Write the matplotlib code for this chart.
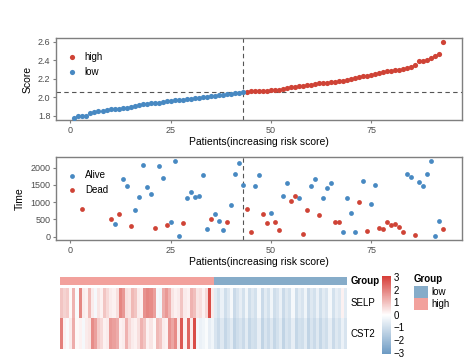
import numpy as np
import matplotlib
matplotlib.use("Agg")
import matplotlib.pyplot as plt
from matplotlib.colors import LinearSegmentedColormap
from matplotlib.patches import Rectangle

plt.rcParams['font.family'] = ['Liberation Sans', 'DejaVu Sans']

# risk score of every patient, sorted (low group first)
score_low = [1.782, 1.795, 1.800, 1.805, 1.830, 1.848, 1.852, 1.858, 1.862, 1.870,
             1.874, 1.878, 1.882, 1.888, 1.898, 1.910, 1.922, 1.928, 1.931, 1.936,
             1.940, 1.944, 1.950, 1.957, 1.966, 1.970, 1.974, 1.976, 1.980, 1.986,
             1.992, 1.996, 2.000, 2.004, 2.010, 2.016, 2.022, 2.026, 2.032, 2.038,
             2.044, 2.052, 2.060]
score_high = [2.062, 2.064, 2.066, 2.068, 2.070, 2.074, 2.078, 2.080, 2.084, 2.088,
              2.100, 2.108, 2.112, 2.118, 2.124, 2.130, 2.138, 2.146, 2.150, 2.156,
              2.160, 2.164, 2.168, 2.172, 2.178, 2.186, 2.196, 2.214, 2.222, 2.226,
              2.232, 2.244, 2.252, 2.262, 2.272, 2.280, 2.284, 2.290, 2.296, 2.304,
              2.314, 2.326, 2.350, 2.390, 2.394, 2.398, 2.420, 2.448, 2.468, 2.592]
cutoff = 2.062

# survival time / status (points hidden under the legend are left out)
surv_idx = [3, 10, 11, 12, 13, 14, 15, 16, 17, 18, 19, 20, 21, 22, 23, 24, 25, 26, 27, 28,
            29, 30, 31, 32, 33, 34, 35, 36, 37, 38, 39, 40, 41, 42, 43, 44, 45, 46, 47, 48,
            49, 50, 51, 52, 53, 54, 55, 56, 57, 58, 59, 60, 61, 62, 63, 64, 65, 66, 67, 68,
            69, 70, 71, 72, 73, 74, 75, 76, 77, 78, 79, 80, 81, 82, 83, 84, 85, 86, 87, 88,
            89, 90, 91, 92, 93]
surv_time = [815, 522, 368, 667, 1680, 1470, 305, 765, 1142, 2065, 1450, 1229, 252, 2045, 1693,
             330, 435, 2200, 20, 395, 1122, 1287, 1155, 1175, 1800, 228, 513, 672, 455, 200,
             440, 922, 1809, 2137, 1499, 790, 140, 1480, 1800, 655, 392, 700, 440, 203, 1185,
             1566, 1044, 1189, 1112, 78, 774, 1461, 1682, 620, 1112, 1408, 1552, 426, 416, 126,
             1122, 696, 126, 1015, 1624, 155, 938, 1490, 252, 213, 436, 339, 378, 281, 145,
             1827, 1731, 49, 1577, 1461, 1827, 2195, 20, 455, 213]
surv_status = ["Dead", "Dead", "Alive", "Dead", "Alive", "Alive", "Dead", "Alive", "Alive", "Alive",
               "Alive", "Alive", "Dead", "Alive", "Alive", "Dead", "Alive", "Alive", "Alive", "Dead",
               "Alive", "Alive", "Alive", "Alive", "Alive", "Alive", "Dead", "Alive", "Alive", "Alive",
               "Dead", "Alive", "Alive", "Alive", "Alive", "Dead", "Dead", "Alive", "Alive", "Dead",
               "Dead", "Alive", "Dead", "Dead", "Alive", "Alive", "Dead", "Dead", "Alive", "Dead",
               "Dead", "Alive", "Alive", "Dead", "Alive", "Alive", "Alive", "Dead", "Dead", "Alive",
               "Alive", "Alive", "Alive", "Dead", "Alive", "Dead", "Alive", "Alive", "Dead", "Dead",
               "Dead", "Dead", "Dead", "Dead", "Dead", "Alive", "Alive", "Dead", "Alive", "Alive",
               "Alive", "Alive", "Alive", "Alive", "Dead"]

# heatmap expression (z-score), columns: 50 high then 43 low
genes = ["SELP", "CST2"]
selp = [0.9, 0.7, 0.8, 0.1, 1.2, -0.1, 1.9, 0.3, 0.2, 1.1, 0.3, -0.2, 0.4, 0.2, 0.9, 0.6, 0.3,
        0.2, 0.5, 1.9, 1.6, 0.5, 0.4, 1.1, 0.9, 0.3, 0.2, 1.7, 1.9, 1.8, 1.5, -0.2, -0.3, 1.3,
        1.6, 1.2, 0.4, 0.2, 0.3, 0.9, 0.3, 0.2, 1.2, 1.0, 0.4, 0.5, 0.2, 0.6, 2.8, 0.3,
        -0.6, -0.9, -0.4, -1.0, -0.7, -0.2, -1.1, -0.8, -0.5, -0.9, -0.3, -1.0, -0.7, -0.9,
        -0.2, -1.1, -0.6, -0.9, -0.3, -1.0, -0.8, -0.4, -1.1, -0.7, -0.9, -0.2, -1.0, -0.6,
        -0.8, -0.3, -1.1, -0.7, -0.9, -0.4, -1.0, -0.6, -0.8, -0.2, -0.9, -0.5, -0.7, 0.2, -0.6]
cst2 = [2.0, 0.2, -0.1, 0.3, 1.3, 0.1, 0.2, -0.2, 0.3, 0.4, 1.8, 1.5, 0.8, 0.6, 0.2, 0.3, 1.6,
        1.5, 1.3, 0.2, 0.3, 1.2, 0.6, 0.3, 0.2, 0.5, 1.2, 0.9, 0.2, 0.4, 0.1, 1.1, 0.9, 0.3,
        0.2, 1.7, 1.4, 1.8, 0.3, 2.6, 0.2, 2.4, 0.3, 2.8, -0.2, -0.4, -0.3, -0.1, -0.5, -0.3,
        -0.8, -1.1, -0.7, -1.2, -0.9, -0.6, -1.3, -1.0, -0.8, -1.1, -0.6, -1.2, -0.9, -1.0,
        -0.5, -1.3, -0.8, -1.1, -0.7, -1.2, -0.9, -0.6, -1.3, -0.8, -1.0, -0.5, -1.2, -0.9,
        -1.0, -0.6, -1.3, -0.8, -1.1, -0.7, -1.2, -0.8, -1.0, -0.5, -1.1, -0.7, -0.9, -0.4, -0.8]
group_labels = ["high"] * 50 + ["low"] * 43

red = "#CF4336"
blue = "#4889C2"
frame = "#7f7f7f"
tick_col = "#4d4d4d"

fig = plt.figure(figsize=(4.72, 3.6), dpi=100)

def style(ax):
    for s in ax.spines.values():
        s.set_color(frame)
        s.set_linewidth(1.0)
    ax.tick_params(length=2.5, width=0.8, color=frame, labelsize=6.5, labelcolor=tick_col, pad=1.5)
    ax.set_xlim(-3.6, 97.6)
    ax.set_xticks([0, 25, 50, 75])

leg_kw = dict(loc="upper left", frameon=False, fontsize=7, handlelength=1.0,
              handletextpad=0.8, labelspacing=0.5, borderpad=0, borderaxespad=0)

# --- risk score panel
ax1 = fig.add_axes([0.1186, 0.6667, 0.860, 0.2278])
n_low = len(score_low)
x_low = np.arange(1, n_low + 1)
x_high = np.arange(n_low + 1, n_low + len(score_high) + 1)
ax1.scatter(x_high, score_high, s=14, color=red, label="high", zorder=3, linewidths=0)
ax1.scatter(x_low, score_low, s=14, color=blue, label="low", zorder=3, linewidths=0)
ax1.axhline(cutoff, color="#555555", lw=0.8, ls=(0, (4, 3)))
ax1.axvline(n_low, color="#555555", lw=0.8, ls=(0, (4, 3)))
ax1.set_ylim(1.757, 2.64)
ax1.set_yticks([1.8, 2.0, 2.2, 2.4, 2.6])
ax1.set_yticklabels(["1.8", "2.0", "2.2", "2.4", "2.6"])
style(ax1)
ax1.set_ylabel("Score", fontsize=7.5, labelpad=4)
ax1.set_xlabel("Patients(increasing risk score)", fontsize=7.5, labelpad=2)
ax1.legend(bbox_to_anchor=(0.028, 0.83), **leg_kw)

# --- survival panel
ax2 = fig.add_axes([0.1186, 0.3333, 0.860, 0.2297])
idx = np.array(surv_idx)
tm = np.array(surv_time)
st = np.array(surv_status)
ax2.scatter(idx[st == "Alive"], tm[st == "Alive"], s=12, color=blue, label="Alive", zorder=3, linewidths=0)
ax2.scatter(idx[st == "Dead"], tm[st == "Dead"], s=12, color=red, label="Dead", zorder=3, linewidths=0)
ax2.axvline(n_low, color="#555555", lw=0.8, ls=(0, (4, 3)))
ax2.set_ylim(-96, 2301)
ax2.set_yticks([0, 500, 1000, 1500, 2000])
style(ax2)
ax2.set_ylabel("Time", fontsize=7.5, labelpad=4)
ax2.set_xlabel("Patients(increasing risk score)", fontsize=7.5, labelpad=2)
ax2.legend(bbox_to_anchor=(0.028, 0.845), **leg_kw)

# --- heatmap
cmap = LinearSegmentedColormap.from_list("bwr2", ["#6C9AC3", "#FFFFFF", "#D63B35"])
grp_colors = {"high": "#F2A19C", "low": "#86ACC9"}

axg = fig.add_axes([0.1278, 0.2083, 0.6068, 0.0214])
axg.imshow([[matplotlib.colors.to_rgb(grp_colors[g]) for g in group_labels]],
           aspect="auto", interpolation="nearest")
axg.set_axis_off()
fig.text(0.742, 0.2190, "Group", fontsize=7, fontweight="bold", va="center")

axh = fig.add_axes([0.1278, 0.0306, 0.6068, 0.1686])
mat = np.array([selp, cst2])
im = axh.imshow(mat, aspect="auto", cmap=cmap, vmin=-3.1, vmax=3.1, interpolation="nearest")
axh.set_axis_off()
for r, g in enumerate(genes):
    axh.text(1.012, 1 - (r + 0.5) / len(genes), g, transform=axh.transAxes,
             fontsize=7, va="center", ha="left")

cax = fig.add_axes([0.8087, 0.0167, 0.0191, 0.2175])
cb = fig.colorbar(im, cax=cax, ticks=[-3, -2, -1, 0, 1, 2, 3])
cb.outline.set_visible(False)
cax.tick_params(length=0, labelsize=7, pad=2)
cax.set_yticklabels(["\u22123", "\u22122", "\u22121", "0", "1", "2", "3"])

# group legend
fig.text(0.877, 0.225, "Group", fontsize=7, fontweight="bold", va="center")
for k, (lab, yy) in enumerate([("low", 285.7), ("high", 297.7)]):
    fig.add_artist(Rectangle((414 / 472, 1 - (yy + 12.5) / 360), 14 / 472, 12.5 / 360,
                             transform=fig.transFigure, color=grp_colors[lab], lw=0))
    fig.text(431 / 472, 1 - (yy + 6.5) / 360, lab, fontsize=7, va="center")

fig.savefig("out.png", dpi=100)
